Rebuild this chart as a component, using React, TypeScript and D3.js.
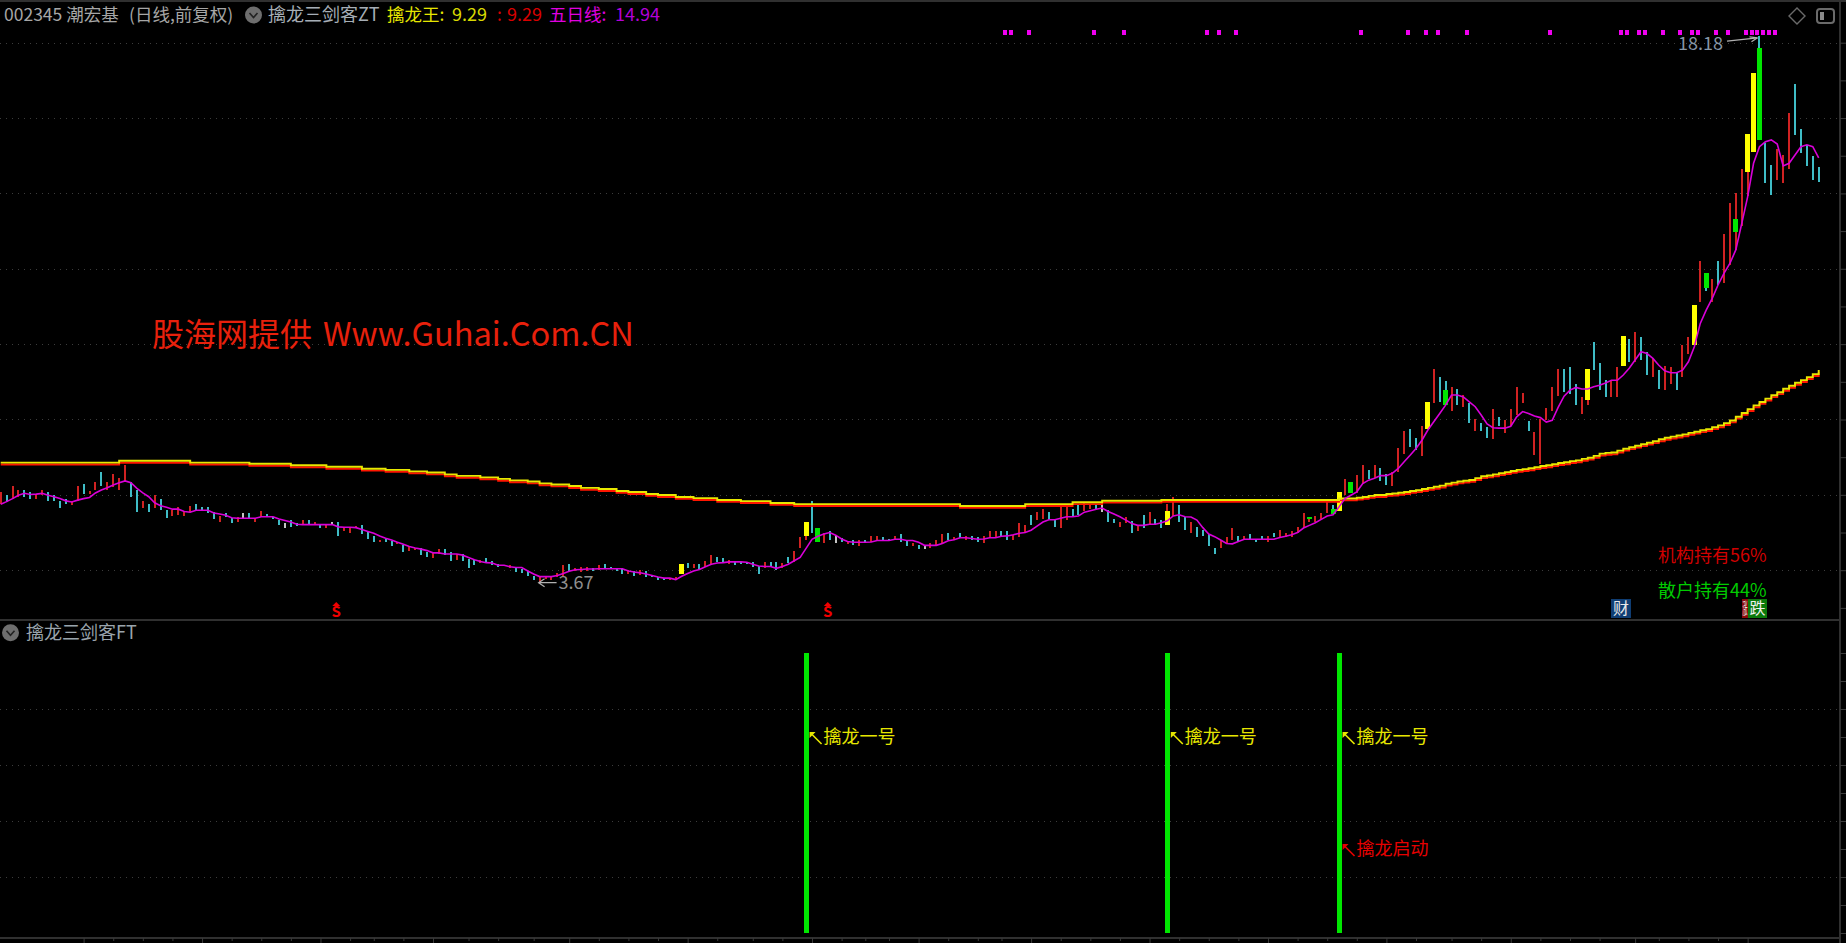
import React, { useEffect, useRef } from "react";
import * as d3 from "d3";

const W = 1846;
const H = 943;

// per-day candles: r red, c cyan, w white, y yellow, g green
const barKind = (
  "rcrrccrrcc" + "ccrrcrrcrr" + "rrccrcrccr" + "rrrccccrcc" + "rwcrrcccwc" + "crcrcrwcrr" + "rcccrccrcr" +
  "rccrrccr" +
  "cccrccccrc" + "cccrrrrrcr" + "rrcrccccrc" + "rccccrrycr" + "crrccrcccc" + "crccrcrryc" + "grcwcrcrcr" + "rccrccrc" +
  "wrrrcrcrcc" + "rrrccrrrcr" + "rccrrccrrc" + "wccrrcrcrc" + "cyrccrcccc" + "rrrcrcccrc" + "rrrrrgrrrg" + "yrgrrcr" +
  "ccrrrccryr" + "cgrcrcrccr" + "crrrrcrrrr" + "rcccrycccr" + "rycrccrcrr" + "crryrgrcrr" + "gryygccrrr" + "ccccc"
).split("");

const barHigh = [
  6.08, 5.99, 6.23, 6.14, 6.14, 6.08, 6.02, 6.14, 6.08, 5.99,
  5.84, 5.9, 5.84, 6.23, 6.28, 6.11, 6.35, 6.6, 6.35, 6.55,
  6.46, 6.79, 6.35, 6.13, 5.84, 5.75, 5.99, 5.88, 5.59, 5.61,
  5.67, 5.58, 5.71, 5.75, 5.68, 5.68, 5.55, 5.44, 5.52, 5.38,
  5.4, 5.52, 5.52, 5.38, 5.56, 5.49, 5.42, 5.33, 5.24, 5.33,
  5.24, 5.32, 5.32, 5.28, 5.22, 5.21, 5.28, 5.28, 5.13, 5.13,
  5.17, 5.2, 5.02, 4.92, 4.8, 4.83, 4.77, 4.74, 4.66, 4.62,
  4.59, 4.6, 4.49, 4.46, 4.55, 4.55, 4.48, 4.43,
  4.43, 4.31, 4.27, 4.28, 4.32, 4.25, 4.16, 4.13, 4.13, 4.07,
  4.02, 3.98, 3.84, 3.81, 3.81, 3.84, 3.93, 4.13, 4.16, 4.05,
  4.09, 4.09, 4.05, 4.13, 4.16, 4.09, 4.07, 4.04, 4.0, 3.98,
  4.0, 3.97, 3.88, 3.82, 3.79, 3.79, 3.82, 4.16, 4.2, 4.16,
  4.16, 4.25, 4.4, 4.36, 4.32, 4.27, 4.22, 4.23, 4.23, 4.23,
  4.11, 4.21, 4.21, 4.21, 4.2, 4.36, 4.52, 4.87, 5.28, 5.83,
  5.12, 4.98, 5.05, 4.9, 4.85, 4.78, 4.8, 4.8, 4.81, 4.92,
  4.92, 4.87, 4.83, 4.92, 4.96, 4.8, 4.73, 4.67,
  4.66, 4.71, 4.8, 4.96, 5.0, 4.87, 5.0, 4.9, 4.92, 4.87,
  4.92, 5.03, 5.03, 5.03, 5.03, 4.94, 5.24, 5.19, 5.47, 5.55,
  5.63, 5.54, 5.33, 5.68, 5.68, 5.63, 5.72, 5.82, 5.72, 5.72,
  5.72, 5.61, 5.35, 5.28, 5.42, 5.31, 5.17, 5.47, 5.54, 5.35,
  5.33, 5.56, 5.95, 5.72, 5.42, 5.28, 5.15, 5.08, 4.96, 4.6,
  4.8, 4.87, 5.12, 4.92, 4.9, 4.96, 4.81, 4.92, 4.9, 5.0,
  5.08, 5.0, 5.03, 5.15, 5.51, 5.4, 5.44, 5.51, 5.9, 5.63,
  6.07, 6.43, 6.35, 6.52, 6.79, 6.67, 6.79,
  6.71, 6.55, 6.61, 7.23, 7.7, 7.75, 7.51, 7.82, 8.46, 9.33,
  9.13, 8.78, 8.87, 8.82, 8.66, 8.43, 8.0, 7.91, 7.79, 8.27,
  8.07, 7.98, 8.27, 8.87, 8.71, 7.95, 7.67, 8.02, 8.3, 8.87,
  9.33, 9.35, 9.38, 8.94, 8.59, 9.33, 10.05, 9.49, 9.06, 9.05,
  9.38, 10.21, 10.14, 10.33, 10.18, 9.79, 9.62, 9.31, 9.42, 9.38,
  9.27, 9.97, 10.18, 11.05, 12.2, 11.88, 11.72, 12.2, 12.92, 13.75,
  13.31, 14.66, 15.59, 17.19, 17.85, 15.33, 14.75, 15.17, 15.02, 16.14,
  16.9, 15.7, 15.29, 14.99, 14.71,
];

const barLow = [
  5.77, 5.82, 5.88, 5.95, 5.93, 5.9, 5.88, 5.99, 5.84, 5.84,
  5.64, 5.75, 5.73, 5.84, 6.02, 6.02, 6.13, 6.23, 6.14, 6.21,
  6.14, 6.37, 5.95, 5.55, 5.64, 5.55, 5.64, 5.59, 5.39, 5.44,
  5.47, 5.44, 5.54, 5.58, 5.58, 5.52, 5.35, 5.28, 5.4, 5.24,
  5.28, 5.38, 5.38, 5.28, 5.42, 5.42, 5.36, 5.2, 5.12, 5.15,
  5.17, 5.21, 5.22, 5.21, 5.12, 5.12, 5.19, 4.91, 5.03, 5.0,
  5.12, 4.96, 4.83, 4.76, 4.76, 4.76, 4.64, 4.69, 4.48, 4.52,
  4.53, 4.4, 4.36, 4.32, 4.44, 4.41, 4.25, 4.28,
  4.25, 4.05, 4.13, 4.18, 4.18, 4.13, 4.09, 4.11, 4.05, 3.96,
  3.93, 3.85, 3.74, 3.7, 3.77, 3.75, 3.82, 3.84, 3.98, 3.98,
  3.95, 3.97, 3.97, 4.0, 4.07, 4.02, 3.98, 3.91, 3.9, 3.84,
  3.86, 3.81, 3.82, 3.75, 3.75, 3.74, 3.74, 3.89, 4.07, 4.07,
  4.02, 4.09, 4.16, 4.22, 4.18, 4.16, 4.13, 4.16, 4.16, 4.09,
  3.91, 4.07, 4.09, 4.0, 4.05, 4.18, 4.22, 4.6, 4.92, 5.0,
  4.76, 4.73, 4.8, 4.73, 4.76, 4.69, 4.67, 4.64, 4.73, 4.74,
  4.78, 4.78, 4.8, 4.8, 4.76, 4.64, 4.64, 4.55,
  4.55, 4.6, 4.66, 4.71, 4.81, 4.8, 4.85, 4.8, 4.8, 4.76,
  4.73, 4.85, 4.89, 4.9, 4.8, 4.8, 4.89, 4.98, 5.19, 5.33,
  5.35, 5.33, 5.15, 5.12, 5.33, 5.42, 5.47, 5.56, 5.63, 5.63,
  5.54, 5.28, 5.24, 5.15, 5.24, 5.0, 5.03, 5.13, 5.22, 5.22,
  5.12, 5.21, 5.44, 5.28, 5.08, 5.0, 4.89, 4.92, 4.64, 4.44,
  4.6, 4.71, 4.8, 4.76, 4.8, 4.8, 4.76, 4.81, 4.76, 4.89,
  4.87, 4.89, 4.89, 4.98, 5.13, 5.36, 5.28, 5.36, 5.51, 5.49,
  5.56, 6.0, 6.04, 6.05, 6.3, 6.43, 6.46,
  6.36, 6.27, 6.23, 6.61, 7.08, 7.26, 7.19, 7.04, 7.75, 8.43,
  8.47, 8.38, 8.22, 8.38, 8.34, 7.91, 7.7, 7.7, 7.51, 7.47,
  7.82, 7.63, 7.84, 8.12, 8.43, 7.7, 7.07, 6.83, 7.98, 8.23,
  8.62, 8.74, 8.67, 8.38, 8.14, 8.51, 9.31, 8.78, 8.59, 8.59,
  8.59, 9.42, 9.53, 9.53, 9.58, 9.18, 9.13, 8.82, 8.78, 8.94,
  8.78, 9.13, 9.74, 9.98, 11.13, 11.49, 11.13, 11.57, 11.61, 12.1,
  12.97, 13.13, 14.57, 15.11, 15.43, 14.28, 13.96, 14.36, 14.28, 14.64,
  15.55, 15.08, 14.73, 14.36, 14.31,
];

// thin shadows of the thick candles
const wickDay = [136, 197, 221, 225, 244, 268, 288, 293, 295, 297];
const wickHigh = [5.28, 5.75, 5.4, 5.72, 9.03, 9.33, 11.88, 14.0, 15.59, 18.18];
const wickLow = [4.8, 5.56, 5.28, 5.63, 8.78, 8.38, 11.41, 12.5, 13.93, 17.85];
const wickKind = ["r", "r", "r", "c", "c", "r", "c", "r", "r", "c"];

// five day line
const maLine = [
  5.75, 5.82, 5.9, 5.99, 6.04, 6.01, 6.02, 6.04, 5.99, 5.95,
  5.9, 5.84, 5.81, 5.86, 5.9, 5.93, 6.05, 6.13, 6.19, 6.26,
  6.32, 6.37, 6.32, 6.17, 6.05, 5.95, 5.79, 5.71, 5.67, 5.62,
  5.62, 5.56, 5.54, 5.59, 5.59, 5.59, 5.52, 5.49, 5.46, 5.39,
  5.38, 5.38, 5.38, 5.38, 5.42, 5.42, 5.42, 5.36, 5.32, 5.28,
  5.22, 5.21, 5.21, 5.21, 5.21, 5.21, 5.21, 5.15, 5.14, 5.14,
  5.13, 5.08, 5.03, 4.98, 4.91, 4.85, 4.8, 4.74, 4.69, 4.63,
  4.59, 4.56, 4.52, 4.46, 4.46, 4.43, 4.43, 4.43,
  4.4, 4.34, 4.28, 4.23, 4.2, 4.19, 4.13, 4.13, 4.09, 4.07,
  4.07, 3.98, 3.9, 3.83, 3.83, 3.83, 3.86, 3.91, 3.97, 4.01,
  4.02, 4.03, 4.03, 4.04, 4.04, 4.04, 4.04, 4.04, 3.98, 3.95,
  3.93, 3.9, 3.86, 3.82, 3.79, 3.79, 3.75, 3.84, 3.91, 3.98,
  4.02, 4.09, 4.16, 4.19, 4.2, 4.22, 4.22, 4.22, 4.21, 4.16,
  4.11, 4.1, 4.1, 4.05, 4.1, 4.16, 4.25, 4.34, 4.58, 4.82,
  4.9, 4.96, 5.0, 4.93, 4.83, 4.76, 4.74, 4.74, 4.74, 4.75,
  4.79, 4.79, 4.79, 4.82, 4.82, 4.79, 4.79, 4.74,
  4.66, 4.66, 4.66, 4.71, 4.78, 4.81, 4.86, 4.86, 4.84, 4.82,
  4.83, 4.86, 4.86, 4.9, 4.91, 4.94, 4.98, 5.0, 5.06, 5.17,
  5.28, 5.34, 5.34, 5.38, 5.42, 5.42, 5.44, 5.54, 5.58, 5.62,
  5.65, 5.56, 5.49, 5.42, 5.33, 5.24, 5.19, 5.19, 5.22, 5.22,
  5.26, 5.31, 5.44, 5.47, 5.42, 5.41, 5.33, 5.13, 4.96, 4.89,
  4.8, 4.71, 4.7, 4.76, 4.82, 4.82, 4.82, 4.82, 4.82, 4.82,
  4.87, 4.9, 4.94, 5.0, 5.12, 5.19, 5.26, 5.35, 5.44, 5.47,
  5.68, 5.9, 5.99, 6.08, 6.3, 6.39, 6.44,
  6.51, 6.51, 6.57, 6.7, 6.88, 7.05, 7.23, 7.45, 7.72, 7.94,
  8.16, 8.38, 8.65, 8.65, 8.6, 8.47, 8.34, 8.12, 7.88, 7.78,
  7.77, 7.77, 7.82, 8.07, 8.21, 8.16, 8.09, 8.05, 7.93, 7.98,
  8.32, 8.62, 8.78, 8.85, 8.81, 8.81, 8.87, 8.91, 8.97, 9.04,
  9.04, 9.18, 9.36, 9.58, 9.8, 9.75, 9.62, 9.44, 9.29, 9.24,
  9.24, 9.31, 9.53, 9.93, 10.55, 10.9, 11.21, 11.57, 11.88, 12.14,
  12.5, 13.2, 13.91, 14.8, 15.24, 15.37, 15.42, 15.31, 14.73, 14.8,
  15.02, 15.24, 15.29, 15.24, 14.94,
];

// long stepped line, day it steps on and its level
const longDay = [
  0, 20, 32, 42, 49, 55, 61, 65, 69, 72, 75, 77, 81, 84, 86, 89, 91, 93, 96, 98, 101, 104, 106, 109, 111, 114, 117,
  121, 125, 130, 134, 162, 173, 181, 186, 196,
  226, 227, 228, 229, 230, 231, 232, 233, 234, 235, 236, 237, 238, 239, 240, 241, 242, 243, 244, 245, 246, 247, 248, 249,
  250, 251, 252, 253, 254, 255, 256, 257, 258, 259, 260, 261, 262, 263, 264, 265, 266, 267, 268, 269,
  270, 271, 272, 273, 274, 275, 276, 277, 278, 279, 280, 281, 282, 283, 284, 285, 286, 287, 288, 289,
  290, 291, 292, 293, 294, 295, 296, 297, 298, 299, 300, 301, 302, 303, 304, 305, 306, 307,
];
const longLevel = [
  6.83, 6.88, 6.83, 6.8, 6.76, 6.72, 6.67, 6.64, 6.6, 6.57, 6.52, 6.48, 6.44, 6.4, 6.36, 6.33, 6.28, 6.25, 6.21, 6.16, 6.13, 6.08, 6.05, 6.0, 5.97, 5.92, 5.89,
  5.84, 5.81, 5.76, 5.73, 5.68, 5.73, 5.78, 5.82, 5.84,
  5.88, 5.88, 5.88, 5.9, 5.92, 5.95, 5.97, 5.97, 6.0, 6.01, 6.03, 6.05, 6.08, 6.1, 6.13, 6.16, 6.19, 6.22, 6.27, 6.3, 6.33, 6.35, 6.37, 6.42,
  6.47, 6.49, 6.52, 6.55, 6.58, 6.61, 6.64, 6.66, 6.68, 6.71, 6.74, 6.76, 6.79, 6.82, 6.84, 6.87, 6.89, 6.93, 6.96, 7.01,
  7.07, 7.09, 7.1, 7.15, 7.2, 7.24, 7.28, 7.32, 7.36, 7.4, 7.45, 7.49, 7.52, 7.55, 7.58, 7.62, 7.65, 7.69, 7.72, 7.77,
  7.82, 7.88, 7.95, 8.05, 8.15, 8.25, 8.35, 8.44, 8.53, 8.62, 8.7, 8.79, 8.87, 8.95, 9.02, 9.1, 9.18, 9.29,
];

const squareDay = [170, 171, 174, 185, 190, 204, 206, 209, 230, 238, 241, 243, 248, 262, 274, 275, 277, 278, 281, 284, 286, 287, 290, 292, 295, 296, 297, 298, 299, 300];
const sellDay = [57, 140];
const signalDay = [136, 197, 226];
const startDay = [226];
const axisDay = [
  14, 19, 24, 29, 34, 39, 44, 49, 54, 59, 63, 68, 73, 79, 84, 90, 96, 101, 106, 111, 116, 121, 127, 132, 137, 142, 146, 150, 155, 160, 165,
  169, 174, 179, 184, 189, 194, 199, 204, 209, 214, 219, 224, 229, 234, 239, 245, 250, 255, 260, 265, 270, 276, 280, 285, 290, 295,
];
const axisMajor = [14, 34, 54, 73, 96, 116, 137, 155, 174, 194, 214, 234, 255, 276, 295];

const BAR_COLOR: Record<string, string> = { r: "#d02222", c: "#3fbcc6", w: "#c4c4c4", y: "#ffff00", g: "#00e600" };
const CJK = "'Noto Sans CJK SC', 'Noto Sans', sans-serif";

export default function App() {
  const ref = useRef<SVGSVGElement>(null);

  useEffect(() => {
    if (!ref.current) return;
    const svg = d3.select(ref.current);
    svg.selectAll("*").remove();

    const x = d3.scaleLinear().domain([0, 307]).range([0.7, 1818.7]);
    const y = d3.scaleLinear().domain([4, 18]).range([570.2, 42.7]);
    const yS = d3.scaleLinear().domain([0, 100]).range([933, 653]);

    svg.append("rect").attr("width", W).attr("height", H).attr("fill", "#000");

    // grids
    const grid = (scale: d3.ScaleLinear<number, number>, values: number[]) => {
      const g = svg
        .append("g")
        .attr("transform", "translate(0,0)")
        .call(d3.axisRight(scale).tickValues(values).tickSize(1840).tickFormat(() => ""));
      g.select(".domain").remove();
      g.selectAll("line").attr("stroke", "#3c3c3c").attr("stroke-dasharray", "1,5").attr("shape-rendering", "crispEdges");
    };
    grid(y, d3.range(4, 19, 2));
    grid(yS, [20, 40, 60, 80]);

    // frame
    const frame = svg.append("g").attr("fill", "#303030");
    frame.append("rect").attr("x", 0).attr("y", 0).attr("width", W).attr("height", 2);
    frame.append("rect").attr("x", 0).attr("y", 619).attr("width", 1840).attr("height", 2);
    frame.append("rect").attr("x", 1839).attr("y", 0).attr("width", 2).attr("height", H);
    frame.append("rect").attr("x", 0).attr("y", 937).attr("width", 1840).attr("height", 2);

    // right ticks
    const rightTicks = (scale: d3.ScaleLinear<number, number>, values: number[]) => {
      const g = svg
        .append("g")
        .attr("transform", "translate(1840,0)")
        .call(d3.axisRight(scale).tickValues(values).tickSize(6).tickFormat(() => ""));
      g.select(".domain").remove();
      g.selectAll("line").attr("stroke", "#3a3a3a");
    };
    rightTicks(y, d3.range(3, 19, 1));
    rightTicks(yS, d3.range(0, 101, 10));

    // bottom ticks
    const bottom = svg
      .append("g")
      .attr("transform", "translate(0,938)")
      .call(d3.axisBottom(x).tickValues(axisDay).tickSize(3).tickFormat(() => ""));
    bottom.select(".domain").remove();
    bottom
      .selectAll<SVGLineElement, number>("line")
      .attr("stroke", "#3a3a3a")
      .attr("y2", (d) => (axisMajor.includes(d) ? 5 : 3));

    // candles
    const candles = barKind.map((kind, i) => ({ kind, i, high: barHigh[i], low: barLow[i] }));
    const thick = (k: string) => k === "y" || k === "g";

    svg
      .append("g")
      .attr("shape-rendering", "crispEdges")
      .selectAll("rect")
      .data(wickDay)
      .enter()
      .append("rect")
      .attr("x", (d) => Math.round(x(d) - 1))
      .attr("width", 2)
      .attr("y", (_, i) => y(wickHigh[i]))
      .attr("height", (_, i) => y(wickLow[i]) - y(wickHigh[i]))
      .attr("fill", (_, i) => BAR_COLOR[wickKind[i]]);

    svg
      .append("g")
      .attr("shape-rendering", "crispEdges")
      .selectAll("rect")
      .data(candles)
      .enter()
      .append("rect")
      .attr("x", (d) => Math.round(x(d.i) - (thick(d.kind) ? 2.5 : 1)))
      .attr("width", (d) => (thick(d.kind) ? 5 : 2))
      .attr("y", (d) => y(d.high))
      .attr("height", (d) => Math.max(1, y(d.low) - y(d.high)))
      .attr("fill", (d) => BAR_COLOR[d.kind]);

    // long line is drawn as a yellow edge on a red edge
    const longLine = d3
      .line<number>()
      .x((d) => x(d))
      .y((_, i) => y(longLevel[i]))
      .curve(d3.curveStepAfter);
    [
      { color: "#ff1500", dy: 1 },
      { color: "#e8e800", dy: -0.9 },
    ].forEach((edge) => {
      svg
        .append("path")
        .attr("d", longLine(longDay))
        .attr("transform", `translate(0,${edge.dy})`)
        .attr("fill", "none")
        .attr("stroke", edge.color)
        .attr("stroke-width", 1.9);
    });

    // five day line
    const maPath = d3
      .line<number>()
      .x((_, i) => x(i))
      .y((d) => y(d));
    svg
      .append("path")
      .attr("d", maPath(maLine))
      .attr("fill", "none")
      .attr("stroke", "#d900d9")
      .attr("stroke-width", 1.6);

    // top squares
    svg
      .append("g")
      .attr("fill", "#f000f0")
      .attr("shape-rendering", "crispEdges")
      .selectAll("rect")
      .data(squareDay)
      .enter()
      .append("rect")
      .attr("x", (d) => Math.round(x(d) - 4))
      .attr("y", y(18.28) - 2.5)
      .attr("width", 4)
      .attr("height", 5);

    const label = (txt: string, px: number, py: number, fill: string, size = 17.5, anchor = "start", weight = "normal") =>
      svg
        .append("text")
        .attr("x", px)
        .attr("y", py)
        .attr("dy", "0.36em")
        .attr("fill", fill)
        .attr("font-family", CJK)
        .attr("font-size", size)
        .attr("font-weight", weight)
        .attr("text-anchor", anchor)
        .text(txt);

    // header
    label("002345 潮宏基", 4, 15, "#a6a6a6");
    label("(日线,前复权)", 129, 15, "#a6a6a6");
    label("擒龙三剑客ZT", 268, 15, "#a6aeb6", 18);
    label("擒龙王:", 387, 15, "#e6e600");
    label("9.29", 452, 15, "#d8d800", 18);
    label(":", 497, 15, "#d80000");
    label("9.29", 507, 15, "#d80000", 18);
    label("五日线:", 549, 15, "#e000e0");
    label("14.94", 615, 15, "#b400d8", 18);
    label("擒龙三剑客FT", 26, 633, "#9aa4ac", 18);

    // collapse buttons
    [
      [253.5, 15],
      [10.5, 632.7],
    ].forEach(([cx, cy]) => {
      svg.append("circle").attr("cx", cx).attr("cy", cy).attr("r", 8.5).attr("fill", "#6e6e6e");
      svg
        .append("path")
        .attr("d", d3.line()([[cx - 4, cy - 2], [cx, cy + 2.5], [cx + 4, cy - 2]]))
        .attr("fill", "none")
        .attr("stroke", "#222")
        .attr("stroke-width", 1.6);
    });

    // top right icons
    svg
      .append("path")
      .attr("d", d3.line()([[1797, 8], [1805, 16], [1797, 24], [1789, 16]]) + "Z")
      .attr("fill", "none")
      .attr("stroke", "#6a6a6a")
      .attr("stroke-width", 1.4);
    svg
      .append("rect")
      .attr("x", 1817)
      .attr("y", 9)
      .attr("width", 17)
      .attr("height", 14)
      .attr("rx", 3)
      .attr("fill", "none")
      .attr("stroke", "#6a6a6a")
      .attr("stroke-width", 2);
    svg.append("rect").attr("x", 1820).attr("y", 12).attr("width", 4).attr("height", 8).attr("fill", "#8a8a8a");

    // watermark
    label("股海网提供", 152, 334, "#e8200c", 32);
    label("Www.Guhai.Com.CN", 323, 334, "#e8200c", 32.6);

    // price callouts
    label("18.18", 1678, y(17.99), "#8696a6", 18);
    const calloutTip: [number, number] = [x(297) - 2, y(18.13)];
    svg
      .append("path")
      .attr("d", d3.line()([[1727, y(18.04)], calloutTip, [calloutTip[0] - 8, calloutTip[1] - 1]]))
      .attr("fill", "none")
      .attr("stroke", "#b0b0b0")
      .attr("stroke-width", 1.2);
    svg
      .append("path")
      .attr("d", d3.line()([[calloutTip[0], calloutTip[1]], [calloutTip[0] - 6, calloutTip[1] + 4]]))
      .attr("fill", "none")
      .attr("stroke", "#b0b0b0")
      .attr("stroke-width", 1.2);

    const lowX = x(91) - 1;
    const lowY = y(3.67);
    svg
      .append("path")
      .attr("d", d3.line()([[lowX + 6, lowY - 4], [lowX, lowY], [lowX + 6, lowY + 4]]) + `M${lowX},${lowY}H${lowX + 18}`)
      .attr("fill", "none")
      .attr("stroke", "#b0b0b0")
      .attr("stroke-width", 1.2);
    label("3.67", lowX + 20, lowY, "#8f8f8f", 18);

    // sell marks
    sellDay.forEach((d) => {
      const cx = x(d) - 2;
      svg
        .append("path")
        .attr("d", d3.line()([[cx - 4, 606], [cx, 602], [cx + 4, 606]]) + "Z")
        .attr("fill", "#f00000");
      label("S", cx, 612, "#f00000", 15, "middle", "bold");
    });

    // holding labels and badges
    label("机构持有56%", 1658, 556, "#d00000", 18);
    label("散户持有44%", 1658, 590.7, "#00cc00", 18);
    svg.append("rect").attr("x", 1611).attr("y", 599).attr("width", 20).attr("height", 19).attr("fill", "#0f3d73");
    label("财", 1621, 608, "#e8e8e8", 16, "middle");
    svg.append("rect").attr("x", 1742).attr("y", 599).attr("width", 6).attr("height", 19).attr("fill", "#8a0808");
    label("涨", 1742.5, 608, "#e8e8e8", 16).attr("textLength", 5).attr("lengthAdjust", "spacingAndGlyphs");
    svg.append("rect").attr("x", 1748).attr("y", 599).attr("width", 19).attr("height", 19).attr("fill", "#0b7a0b");
    label("跌", 1757.5, 608, "#f0f0f0", 16, "middle");

    // lower pane signal bars
    svg
      .append("g")
      .attr("fill", "#00e600")
      .attr("shape-rendering", "crispEdges")
      .selectAll("rect")
      .data(signalDay)
      .enter()
      .append("rect")
      .attr("x", (d) => Math.round(x(d) - 2.5))
      .attr("y", yS(100))
      .attr("width", 5)
      .attr("height", yS(0) - yS(100));

    const signalLabel = (d: number, value: number, txt: string, fill: string) => {
      const ax = x(d) + 3.5;
      const ay = yS(value) - 5;
      svg
        .append("path")
        .attr("d", `M${ax},${ay}l6,0l-6,6z`)
        .attr("fill", fill);
      svg
        .append("path")
        .attr("d", `M${ax + 2},${ay + 2}l10,10`)
        .attr("fill", "none")
        .attr("stroke", fill)
        .attr("stroke-width", 1.6);
      label(txt, ax + 14, yS(value), fill, 18);
    };
    signalDay.forEach((d) => signalLabel(d, 70, "擒龙一号", "#e6e600"));
    startDay.forEach((d) => signalLabel(d, 30, "擒龙启动", "#e60000"));
  }, []);

  return <svg ref={ref} width={W} height={H} style={{ position: "fixed", left: 0, top: 0, display: "block" }} />;
}
